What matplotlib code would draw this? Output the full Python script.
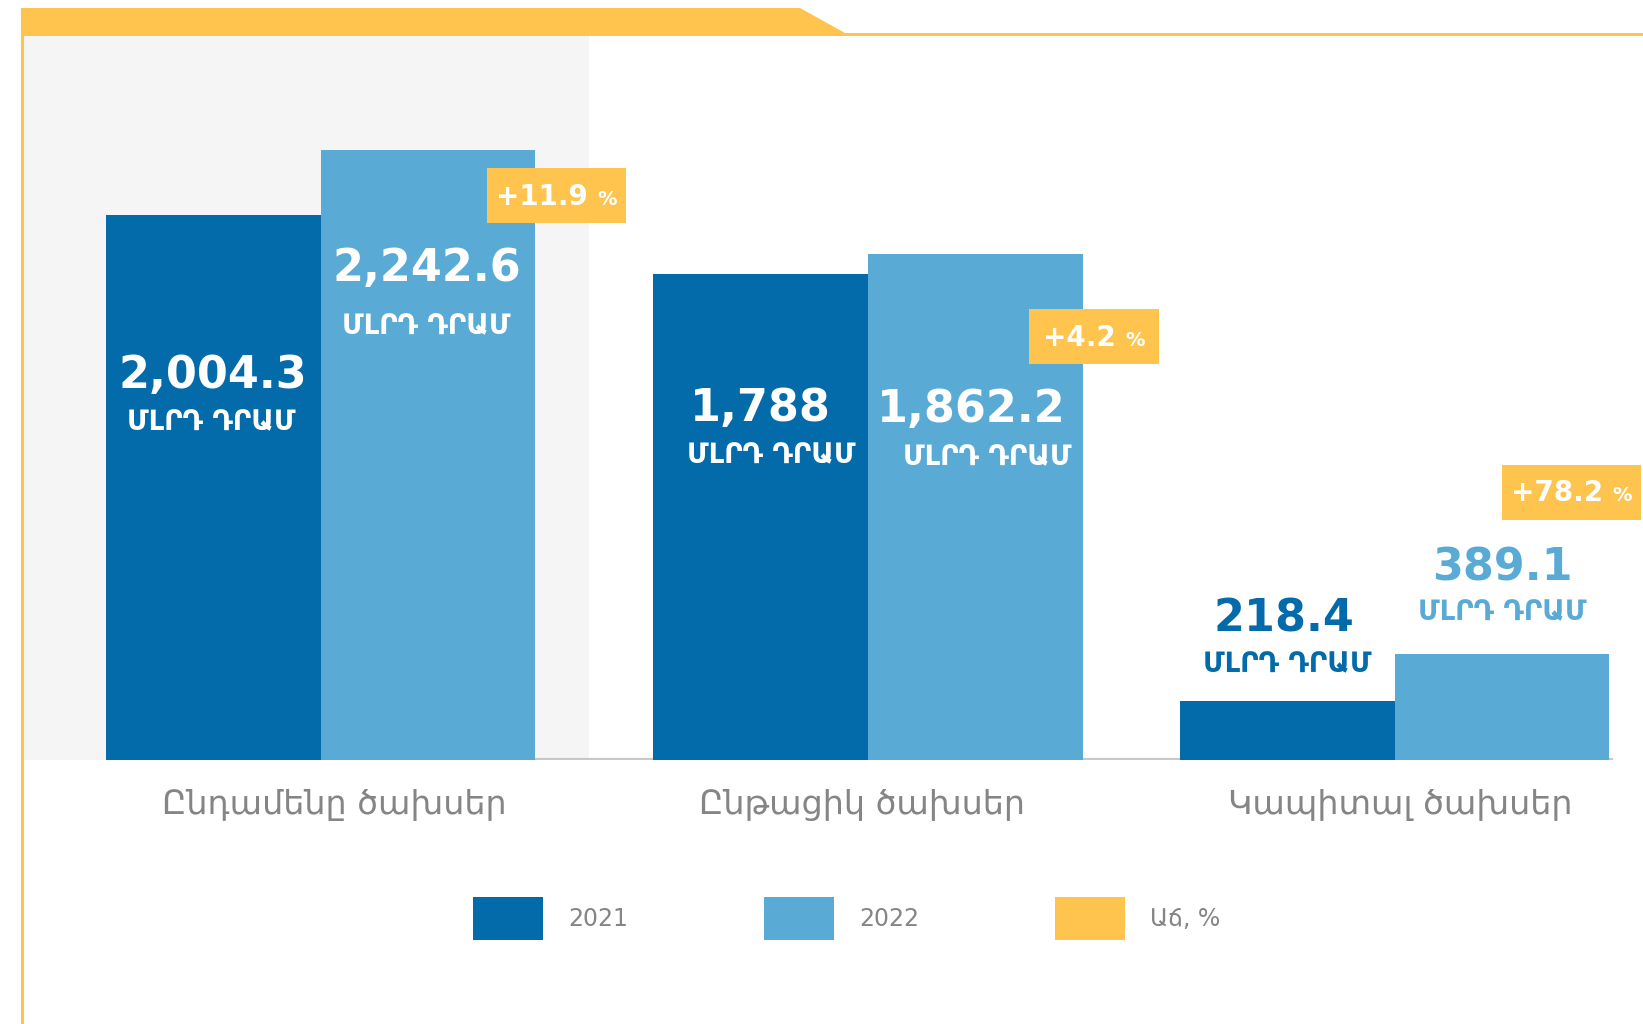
import matplotlib
matplotlib.use('Agg')
import matplotlib.pyplot as plt
from matplotlib.patches import Polygon, Rectangle, Patch
from matplotlib.offsetbox import TextArea, HPacker, AnnotationBbox

# ---------------- data ----------------
categories = ["Ընդամենը ծախսեր", "Ընթացիկ ծախսեր", "Կապիտալ ծախսեր"]
values_2021 = [2004.3, 1788.0, 218.4]
values_2022 = [2242.6, 1862.2, 389.1]
labels_2021 = ["2,004.3", "1,788", "218.4"]
labels_2022 = ["2,242.6", "1,862.2", "389.1"]
growth_labels = ["+11.9", "+4.2", "+78.2"]
series_names = ["2021", "2022", "Աճ, %"]
unit_label = "ՄԼՐԴ ԴՐԱՄ"

# ---------------- style / layout ----------------
C1 = '#036BAA'
C2 = '#59ABD6'
YEL = '#FFC44E'
GRAY_TXT = '#858585'
PANEL = '#f5f5f5'
FONT = ['DejaVu Sans']
plt.rcParams['font.family'] = FONT

W, H = 1643, 1024
fig = plt.figure(figsize=(W / 100, H / 100), dpi=100)
fig.patch.set_facecolor('white')

bg = fig.add_axes([0, 0, 1, 1])
bg.set_xlim(0, W)
bg.set_ylim(H, 0)
bg.axis('off')

# decorations
bg.add_patch(Rectangle((24, 36), 565, 724, color=PANEL, lw=0, zorder=0))
bg.add_patch(Polygon([(21, 8), (800, 8), (845, 33), (W, 33), (W, 36), (21, 36)],
                     closed=True, color=YEL, lw=0, zorder=1))
bg.add_patch(Rectangle((21, 8), 3, H - 8, color=YEL, lw=0, zorder=1))

# bar axes
base_px, top_px = 760, 36
px_per_unit = 0.2719
ax = fig.add_axes([0, (H - base_px) / H, 1, (base_px - top_px) / H])
ax.set_ylim(0, (base_px - top_px) / px_per_unit)
unit = 537.0
x0px = 320.6
ax.set_xlim(-x0px / unit, (W - x0px) / unit)
ax.patch.set_visible(False)
for s in ax.spines.values():
    s.set_visible(False)
ax.set_yticks([])

group_pos = [0.0, 1.019, 2.0]
tick_pos = [0.025, 1.008, 2.010]
bw = 0.4
x1 = [p - bw / 2 for p in group_pos]
x2 = [p + bw / 2 for p in group_pos]
ax.bar(x1, values_2021, width=bw, color=C1, zorder=3, linewidth=0)
ax.bar(x2, values_2022, width=bw, color=C2, zorder=3, linewidth=0)
ax.axhline(0, xmin=121 / W, xmax=1611 / W, color='#c8c8c8', lw=3, zorder=2)

ax.set_xticks(tick_pos)
ax.set_xticklabels(categories)
ax.tick_params(axis='x', length=0, pad=20, labelsize=24, labelcolor=GRAY_TXT)

# value labels (offsets in pixels relative to bar top)
num_off_2021 = [-160, -135, 82]
num_off_2022 = [-118, -156, 86]
unit_dy_2021 = [47, 46, 46]
unit_dy_2022 = [58, 48, 44]
unit_dx_2021 = [-2, 11, 0]
unit_dx_2022 = [-2, 12, 0]
num_dx_2021 = [0, 0, -3]
num_dx_2022 = [-1, -4, 0]
col_2021 = ['white', 'white', C1]
col_2022 = ['white', 'white', C2]

def put_labels(xs, vals, labs, offs, udy, udx, ndx, cols):
    for x, v, lab, o, dy, dx, nx, c in zip(xs, vals, labs, offs, udy, udx, ndx, cols):
        ax.annotate(lab, xy=(x, v), xytext=(nx, o), textcoords='offset pixels',
                    ha='center', va='center', fontsize=32, fontweight='bold',
                    color=c, zorder=5)
        ax.annotate(unit_label, xy=(x, v), xytext=(dx, o - dy), textcoords='offset pixels',
                    ha='center', va='center', fontsize=20, fontweight='bold',
                    color=c, zorder=5)

put_labels(x1, values_2021, labels_2021, num_off_2021, unit_dy_2021, unit_dx_2021, num_dx_2021, col_2021)
put_labels(x2, values_2022, labels_2022, num_off_2022, unit_dy_2022, unit_dx_2022, num_dx_2022, col_2022)

# overlay axes for growth boxes (drawn above the bars)
fg = fig.add_axes([0, 0, 1, 1])
fg.set_xlim(0, W)
fg.set_ylim(H, 0)
fg.axis('off')
fg.patch.set_visible(False)

box_dx = [21, 11, -38]
box_dy = [45.5, 83, -162]
box_w = [139, 130, 139]
box_h = 55
for xr, v, g, dx, dy, bwid in zip(x2, values_2022, growth_labels, box_dx, box_dy, box_w):
    dispx, dispy = ax.transData.transform((xr + bw / 2, v))
    cx = dispx + dx
    cy = (H - dispy) + dy
    fg.add_patch(Rectangle((cx - bwid / 2, cy - box_h / 2), bwid, box_h,
                           color=YEL, lw=0, zorder=6))
    t1 = TextArea(g, textprops=dict(fontsize=20, fontweight='bold', color='white'))
    t2 = TextArea("%", textprops=dict(fontsize=14, fontweight='bold', color='white'))
    pk = HPacker(children=[t1, t2], sep=7, pad=0, align='baseline')
    ab = AnnotationBbox(pk, (cx, cy + 1), xycoords='data', box_alignment=(0.5, 0.5),
                        frameon=False, pad=0, zorder=7)
    fg.add_artist(ab)

# legend
handles = [Patch(color=C1, lw=0), Patch(color=C2, lw=0), Patch(color=YEL, lw=0)]
fig.legend(handles, series_names, loc='center left',
           bbox_to_anchor=(472.5 / W, 1 - 918.5 / H), ncol=3, frameon=False,
           fontsize=17, handlelength=2.97, handleheight=2.43, handletextpad=1.07,
           columnspacing=5.75, borderpad=0, borderaxespad=0, labelcolor=GRAY_TXT)

fig.savefig('out.png', dpi=100, facecolor='white')
